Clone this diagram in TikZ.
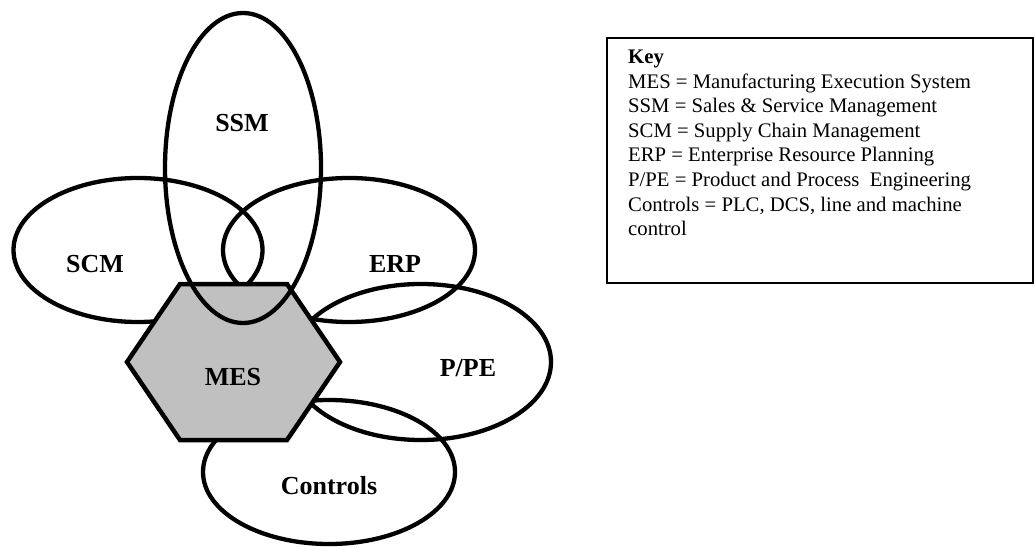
\documentclass[tikz,border=0pt]{standalone}
\usepackage{fontspec}
\setmainfont{Liberation Serif}
\usetikzlibrary{shapes.geometric}
\begin{document}
\begin{tikzpicture}[x=1pt,y=-1pt,
  area/.style={ellipse, draw=black, line width=4.3pt, inner sep=0pt},
  tag/.style={font=\fontsize{26}{30}\selectfont\bfseries, inner sep=0pt},
  keytext/.style={font=\fontsize{20.7}{24.6}\selectfont, anchor=base west, inner sep=0pt},
  keybox/.style={draw=black, line width=2pt, inner sep=0pt}]
\useasboundingbox (0,0) rectangle (1035,548);

% surrounding systems
\node[area, minimum width=249pt, minimum height=144pt] (scm) at (138,250) {};
\node[area, minimum width=252pt, minimum height=144pt] (erp) at (349,250) {};
\node[area, minimum width=260pt, minimum height=156pt] (ppe) at (421,362) {};
\node[area, minimum width=252pt, minimum height=144pt] (ctl) at (329,472) {};

% MES hexagon
\coordinate (h1) at (127,362);
\coordinate (h2) at (180,284);
\coordinate (h3) at (287,284);
\coordinate (h4) at (340,362);
\coordinate (h5) at (287,440);
\coordinate (h6) at (180,440);
\draw[line width=4.5pt, fill={rgb,255:red,192;green,192;blue,192}, line join=miter]
  (h1) -- (h2) -- (h3) -- (h4) -- (h5) -- (h6) -- cycle;

% SSM lies over the hexagon
\node[area, minimum width=156pt, minimum height=310pt] (ssm) at (243,168) {};

% labels
\node[tag] (lssm) at (242,123) {SSM};
\node[tag] (lscm) at (95,264) {SCM};
\node[tag] (lerp) at (395,264) {ERP};
\node[tag] (lmes) at (233,377) {MES};
\node[tag] (lppe) at (468,368) {P/PE};
\node[tag] (lctl) at (329,486) {Controls};

% key
\node[keybox, minimum width=426pt, minimum height=245pt] (key) at (820,160.5) {};
\foreach \t [count=\i from 0] in {%
  {\bfseries Key},
  {MES = Manufacturing Execution System},
  {SSM = Sales \& Service Management},
  {SCM = Supply Chain Management},
  {ERP = Enterprise Resource Planning},
  {P/PE = Product and Process\ \ Engineering},
  {Controls = PLC, DCS, line and machine},
  {control}}
  \node[keytext] (k\i) at (628,{63.5+24.6*\i}) {\t};
\end{tikzpicture}
\end{document}
